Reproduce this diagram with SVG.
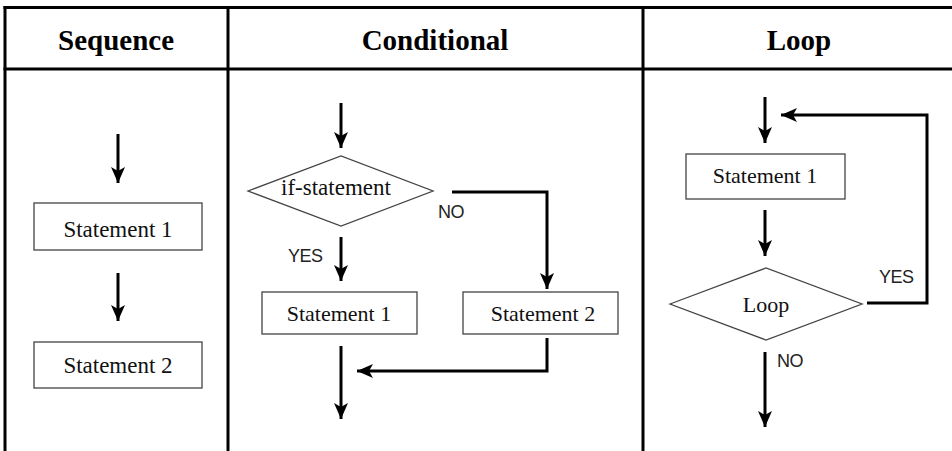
<svg xmlns="http://www.w3.org/2000/svg" width="952" height="451" viewBox="0 0 952 451">
<style>
.grid{stroke:#000;stroke-width:3;fill:none}
.hdr{font-family:"Liberation Serif",serif;font-weight:bold;font-size:29px;fill:#000;text-anchor:middle}
.box{fill:#fff;stroke:#444;stroke-width:1.3}
.txt{font-family:"Liberation Serif",serif;font-size:22px;fill:#111;text-anchor:middle}
.lbl{font-family:"Liberation Sans",sans-serif;font-size:18px;fill:#222;letter-spacing:-0.5px}
.con{stroke:#000;stroke-width:3;fill:none}
.arr{marker-end:url(#ah)}
</style>
<defs>
<marker id="ah" markerUnits="userSpaceOnUse" viewBox="0 0 16 14" markerWidth="16" markerHeight="14" refX="16" refY="7" orient="auto">
<path d="M0,0 L16,7 L0,14 L4,7 z" fill="#000"/>
</marker>
</defs>
<rect width="952" height="451" fill="#fff"/>
<g id="table">
<line class="grid" x1="3.5" y1="7.5" x2="952" y2="7.5"/>
<line class="grid" x1="3.5" y1="69" x2="952" y2="69"/>
<line class="grid" x1="5" y1="6" x2="5" y2="451"/>
<line class="grid" x1="228" y1="6" x2="228" y2="451"/>
<line class="grid" x1="643" y1="6" x2="643" y2="451"/>
<text class="hdr" x="116" y="50">Sequence</text>
<text class="hdr" x="435" y="50">Conditional</text>
<text class="hdr" x="799" y="50">Loop</text>
</g>
<g id="connectors">
<line class="con arr" x1="118" y1="134" x2="118" y2="183"/>
<line class="con arr" x1="118" y1="273" x2="118" y2="321"/>
<line class="con arr" x1="341" y1="103" x2="341" y2="148"/>
<line class="con arr" x1="341" y1="237" x2="341" y2="281"/>
<polyline class="con arr" points="452,192 547,192 547,289"/>
<line class="con arr" x1="341" y1="346" x2="341" y2="419"/>
<polyline class="con arr" points="547,338 547,371 357,371"/>
<line class="con arr" x1="765" y1="97" x2="765" y2="143"/>
<polyline class="con arr" points="867,303 927,303 927,115 781,115"/>
<line class="con arr" x1="765" y1="210" x2="765" y2="256"/>
<line class="con arr" x1="765" y1="352" x2="765" y2="427"/>
</g>
<g id="seq-s1">
<rect class="box" x="34" y="203" width="168" height="47"/>
<text class="txt" x="118" y="237" style="font-size:23px">Statement 1</text>
</g>
<g id="seq-s2">
<rect class="box" x="34" y="342" width="168" height="46"/>
<text class="txt" x="118" y="373" style="font-size:23px">Statement 2</text>
</g>
<g id="cond-if">
<polygon class="box" points="248,191 341,156 433,191 341,226"/>
<text class="txt" x="336" y="195" style="font-size:23px">if-statement</text>
</g>
<g id="cond-s1">
<rect class="box" x="262" y="292" width="155" height="42"/>
<text class="txt" x="339" y="321">Statement 1</text>
</g>
<g id="cond-s2">
<rect class="box" x="463" y="292" width="155" height="42"/>
<text class="txt" x="543" y="321">Statement 2</text>
</g>
<g id="loop-s1">
<rect class="box" x="686" y="154" width="159" height="45"/>
<text class="txt" x="765" y="183">Statement 1</text>
</g>
<g id="loop-cond">
<polygon class="box" points="670,304 766,268 862,304 766,340"/>
<text class="txt" x="766" y="312">Loop</text>
</g>
<g id="labels">
<text class="lbl" x="288" y="262">YES</text>
<text class="lbl" x="438" y="218">NO</text>
<text class="lbl" x="879" y="283">YES</text>
<text class="lbl" x="777" y="367">NO</text>
</g>
</svg>
